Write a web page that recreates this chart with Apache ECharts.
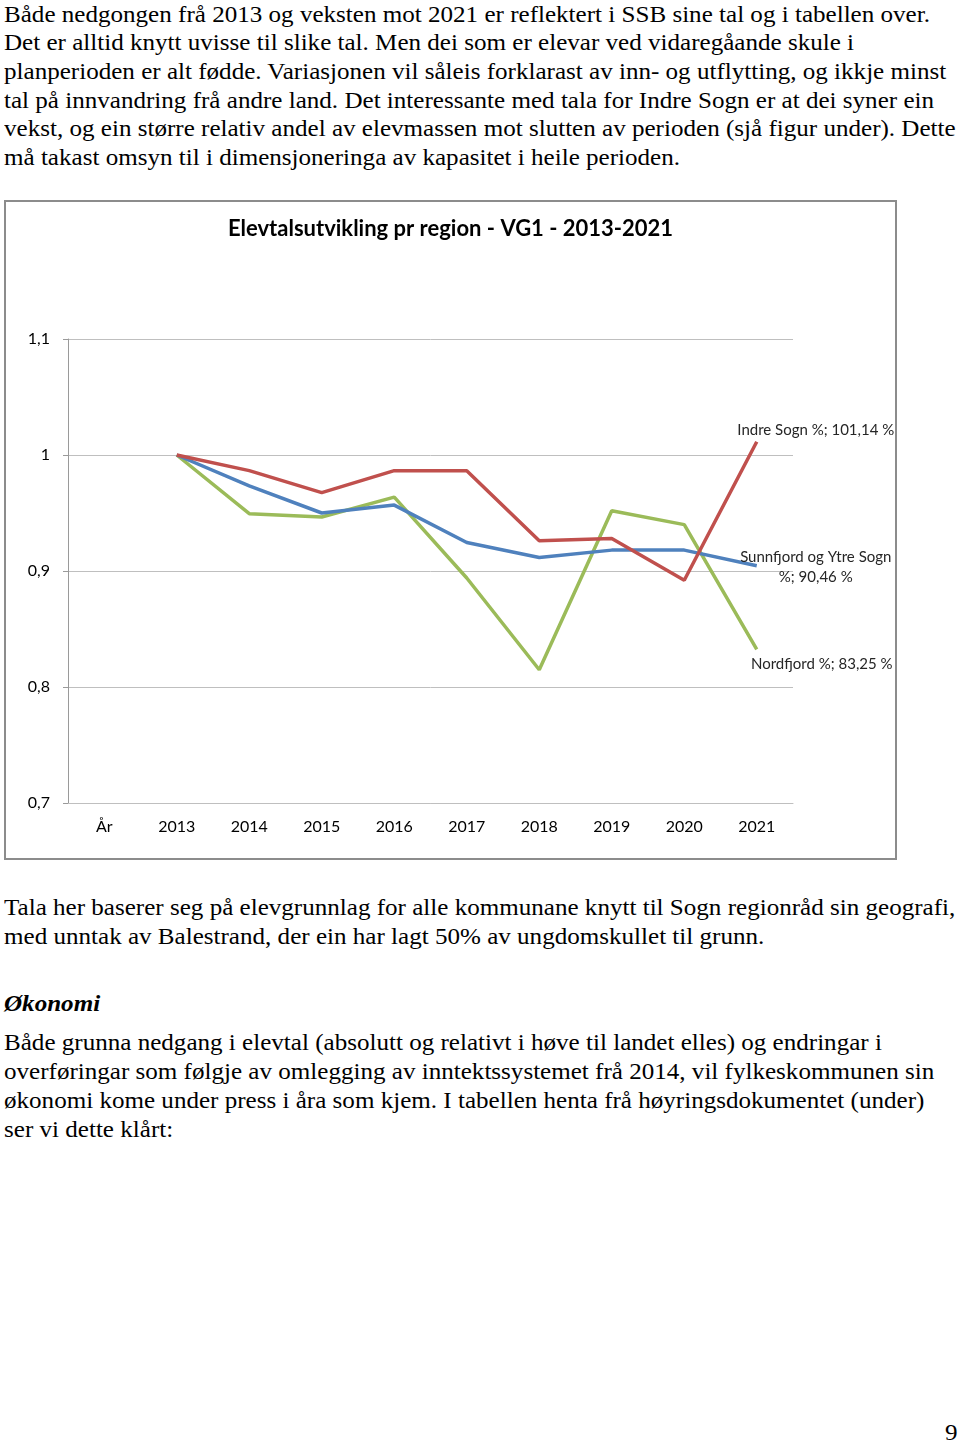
<!DOCTYPE html>
<html>
<head>
<meta charset="utf-8">
<script src="https://cdn.jsdelivr.net/npm/echarts@6/dist/echarts.min.js"></script>
<style>
  html, body { margin:0; padding:0; background:#fff; }
  body { width:960px; height:1442px; position:relative; overflow:hidden; }
  .ln { position:absolute; left:4px; white-space:nowrap; font-family:"Liberation Serif","DejaVu Serif",serif; font-size:23px; line-height:29px; color:#000; transform:scaleX(1.09); transform-origin:0 50%; }
  #frame { position:absolute; left:4px; top:200px; width:893px; height:660px; box-sizing:border-box; border:2px solid #8c8c8c; }
  #chart { position:absolute; left:6px; top:202px; width:889px; height:656px; }
</style>
</head>
<body>
<div class="ln" style="top:0px">Både nedgongen frå 2013 og veksten mot 2021 er reflektert i SSB sine tal og i tabellen over.</div>
<div class="ln" style="top:28px">Det er alltid knytt uvisse til slike tal. Men dei som er elevar ved vidaregåande skule i</div>
<div class="ln" style="top:57px">planperioden er alt fødde. Variasjonen vil såleis forklarast av inn- og utflytting, og ikkje minst</div>
<div class="ln" style="top:86px">tal på innvandring frå andre land. Det interessante med tala for Indre Sogn er at dei syner ein</div>
<div class="ln" style="top:114px">vekst, og ein større relativ andel av elevmassen mot slutten av perioden (sjå figur under). Dette</div>
<div class="ln" style="top:143px">må takast omsyn til i dimensjoneringa av kapasitet i heile perioden.</div>

<div id="frame"></div>
<div id="chart"></div>

<div class="ln" style="top:893px">Tala her baserer seg på elevgrunnlag for alle kommunane knytt til Sogn regionråd sin geografi,</div>
<div class="ln" style="top:922px">med unntak av Balestrand, der ein har lagt 50% av ungdomskullet til grunn.</div>
<div class="ln" style="top:989px;font-weight:bold;font-style:italic">Økonomi</div>
<div class="ln" style="top:1028px">Både grunna nedgang i elevtal (absolutt og relativt i høve til landet elles) og endringar i</div>
<div class="ln" style="top:1057px">overføringar som følgje av omlegging av inntektssystemet frå 2014, vil fylkeskommunen sin</div>
<div class="ln" style="top:1086px">økonomi kome under press i åra som kjem. I tabellen henta frå høyringsdokumentet (under)</div>
<div class="ln" style="top:1115px">ser vi dette klårt:</div>
<div class="ln" style="top:1418px;left:945px">9</div>

<script>
const categories = ['År', '2013', '2014', '2015', '2016', '2017', '2018', '2019', '2020', '2021'];
const indreSogn  = [null, 1.0, 0.9865, 0.9676, 0.9865, 0.9865, 0.926, 0.928, 0.892, 1.0114];
const sunnfjord  = [null, 1.0, 0.9734, 0.950, 0.9568, 0.9246, 0.9117, 0.918, 0.918, 0.9046];
const nordfjord  = [null, 1.0, 0.9494, 0.9465, 0.9637, 0.894, 0.8149, 0.952, 0.940, 0.8325];
const seriesNames = ['Indre Sogn %', 'Sunnfjord og Ytre Sogn %', 'Nordfjord %'];
const endLabels = ['Indre Sogn %; 101,14 %', 'Sunnfjord og Ytre Sogn\n%; 90,46 %', 'Nordfjord %; 83,25 %'];
const yTicks = [0.7, 0.8, 0.9, 1.0, 1.1];

const colors = ['#C0504D', '#4F81BD', '#9BBB59'];
const labelOffsets = [[59, -12], [59, 1], [65, 15]];

function build(vals, idx) {
  const last = vals.length - 1;
  return vals.map((v, i) => i === last ? {
    value: v,
    label: {
      show: true, position: 'inside', offset: labelOffsets[idx],
      formatter: endLabels[idx], align: 'center', verticalAlign: 'middle',
      fontFamily: 'Lato', fontSize: 15, color: '#262626', lineHeight: 20
    }
  } : v);
}

const chart = echarts.init(document.getElementById('chart'), null, {renderer: 'canvas'});
chart.setOption({
  animation: false,
  title: {
    text: 'Elevtalsutvikling pr region - VG1 - 2013-2021',
    left: 'center', top: 11,
    textStyle: { fontFamily: 'Lato', fontWeight: 'bold', fontSize: 22, color: '#000' }
  },
  grid: { left: 62, right: 102, top: 137, bottom: 55, containLabel: false },
  xAxis: {
    type: 'category', data: categories, boundaryGap: true,
    axisLine: { show: true, lineStyle: { color: '#bfbfbf', width: 1 } },
    axisTick: { show: false },
    axisLabel: { fontFamily: 'Lato', fontSize: 16, color: '#000', margin: 16 }
  },
  yAxis: {
    type: 'value', min: yTicks[0], max: yTicks[yTicks.length - 1], interval: 0.1,
    axisLine: { show: true, lineStyle: { color: '#9a9a9a', width: 1 } },
    axisTick: { show: true, length: 5, lineStyle: { color: '#9a9a9a' } },
    splitLine: { show: true, lineStyle: { color: '#bfbfbf', width: 1 } },
    axisLabel: {
      fontFamily: 'Lato', fontSize: 16, color: '#000', margin: 18,
      formatter: v => String(+v.toFixed(2)).replace('.', ',')
    }
  },
  series: [indreSogn, sunnfjord, nordfjord].map((vals, i) => ({
    name: seriesNames[i], type: 'line', data: build(vals, i),
    symbol: 'circle', symbolSize: 0, showSymbol: true,
    lineStyle: { color: colors[i], width: 3.5 },
    itemStyle: { color: colors[i] },
    connectNulls: false, z: 3 - i
  }))
});
</script>
</body>
</html>
